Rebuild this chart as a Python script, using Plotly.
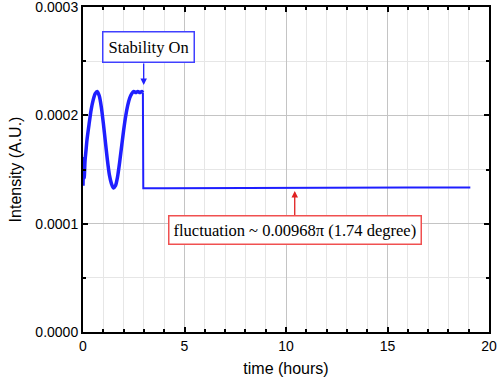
import plotly.graph_objects as go

# Before stabilization (oscillating)
t_before = [0.0, 0.03, 0.06, 0.1, 0.15, 0.2, 0.3, 0.4, 0.5, 0.6, 0.7, 0.8, 0.9, 1.0, 1.1, 1.2, 1.3, 1.4,
            1.5, 1.6, 1.7, 1.8, 1.9, 2.0, 2.1, 2.2, 2.3, 2.4, 2.5, 2.6, 2.7, 2.8, 2.9, 2.95]
i_before = [0.000135, 0.000160, 0.000142, 0.000158, 0.000168, 0.000178, 0.000192, 0.000205, 0.000214,
            0.000220, 0.000222, 0.000218, 0.000208, 0.000193, 0.000176, 0.000159, 0.000145, 0.000137,
            0.000133, 0.000135, 0.000143, 0.000156, 0.000171, 0.000186, 0.000199, 0.000209, 0.000216,
            0.000220, 0.000222, 0.000221, 0.000222, 0.000221, 0.000222, 0.000221]
# After stabilization (flat)
t_after = [2.96, 2.97, 4.0, 6.0, 8.0, 10.0, 12.0, 14.0, 16.0, 18.0, 19.08]
i_after = [0.000170, 0.0001328, 0.0001328, 0.0001330, 0.0001332, 0.0001334, 0.0001336, 0.0001336,
           0.0001335, 0.0001334, 0.0001334]

x_ticks = [0, 5, 10, 15, 20]
y_ticks = [0.0, 0.0001, 0.0002, 0.0003]

blue = "#1f1fff"
fig = go.Figure()
fig.add_trace(go.Scatter(x=t_before, y=i_before, mode="lines",
                         line=dict(color=blue, width=3.5, shape="spline", smoothing=0.6),
                         showlegend=False))
fig.add_trace(go.Scatter(x=[t_before[-1]] + t_after, y=[i_before[-1]] + i_after, mode="lines",
                         line=dict(color=blue, width=2), showlegend=False))

axis_common = dict(
    showline=True, linecolor="black", linewidth=2, mirror="ticks",
    ticks="inside", ticklen=5, tickwidth=1.5, tickcolor="black",
    showgrid=True, gridcolor="#c4c4c4", gridwidth=1, zeroline=False, automargin=False,
    ticklabeloverflow="allow",
    tickfont=dict(family="Liberation Sans, Arial", size=14, color="black"),
)

fig.update_xaxes(range=[0, 20], tickvals=x_ticks, **axis_common,
                 minor=dict(dtick=1, ticks="inside", ticklen=3, tickcolor="black",
                            showgrid=True, gridcolor="#e6e6e6", gridwidth=1),
                 title=dict(text="time (hours)", font=dict(family="Liberation Sans, Arial", size=16, color="black"),
                            standoff=10))
fig.update_yaxes(range=[0, 0.0003], tickvals=y_ticks, tickformat=".4f", **axis_common,
                 minor=dict(dtick=0.00005, ticks="inside", ticklen=3, tickcolor="black",
                            showgrid=True, gridcolor="#e6e6e6", gridwidth=1),
                 title=dict(text="Intensity (A.U.)", font=dict(family="Liberation Sans, Arial", size=16, color="black"),
                            standoff=10))

def px_to_x(px):
    return (px - 83.3) / 20.3
def px_to_y(py):
    return (332 - py) / 108.3 * 0.0001

serif = dict(family="Liberation Serif, Times New Roman", size=16.5, color="black")
# Stability On box
fig.add_annotation(x=px_to_x(149), y=px_to_y(47), xref="x", yref="y", text="Stability On", showarrow=False,
                   font=serif, bgcolor="white", bordercolor="#4040ff", borderwidth=1.5, borderpad=5)
fig.add_annotation(x=2.99, y=0.000228, xref="x", yref="y", text="", showarrow=True,
                   ax=0, ay=-23, arrowhead=2, arrowsize=1, arrowwidth=1.3, arrowcolor="#2020ff")
# Fluctuation box
fig.add_annotation(x=10.43, y=0.0001302, xref="x", yref="y", text="", showarrow=True,
                   ax=0, ay=27, arrowhead=2, arrowsize=1, arrowwidth=1.3, arrowcolor="#e02020")
fig.add_annotation(x=px_to_x(295), y=px_to_y(230.5), xref="x", yref="y",
                   text="fluctuation ~ 0.00968π (1.74 degree)", showarrow=False,
                   font=serif, bgcolor="white", bordercolor="#f05050", borderwidth=1.5, borderpad=4)

fig.update_layout(
    width=498, height=381,
    margin=dict(l=83, r=9, t=7, b=49),
    plot_bgcolor="white", paper_bgcolor="white",
)

fig.write_html("out.html", config={"displayModeBar": False},
               post_script="document.body.style.margin='0px';")
